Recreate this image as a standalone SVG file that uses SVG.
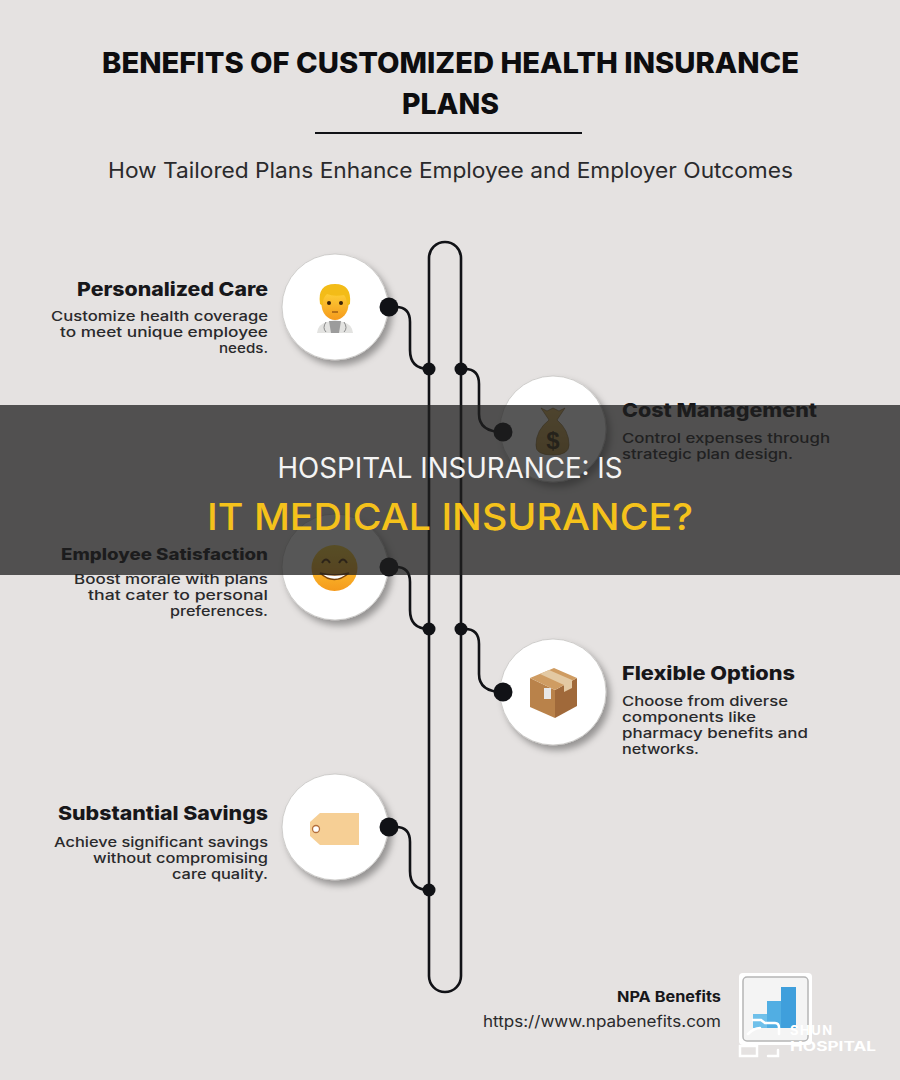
<svg xmlns="http://www.w3.org/2000/svg" width="900" height="1080" viewBox="0 0 900 1080">
<style>
.t{font-family:"Inter","Liberation Sans",sans-serif;font-size:28.5px;font-weight:800;fill:#0d0d0f}
.n{font-family:"Inter","Liberation Sans",sans-serif;font-size:19px;font-weight:800;fill:#17171a}
.b{font-family:"Inter","Liberation Sans",sans-serif;font-size:13.2px;font-weight:500;fill:#2a2a2c}
.e{text-anchor:end}
.c{fill:#fff;filter:url(#sh);stroke:#bdbbb9;stroke-width:.7}
.w{fill:none;stroke:#111216;stroke-width:2.6}
.d{fill:#111216}
</style>
<defs>
<filter id="sh" x="-30%" y="-30%" width="170%" height="170%"><feDropShadow dx="4" dy="5" stdDeviation="3.5" flood-color="#000" flood-opacity=".35"/></filter>
<linearGradient id="sk" x1="0" y1="0" x2="0" y2="1"><stop offset="0" stop-color="#ffd83b"/><stop offset="1" stop-color="#f59a1c"/></linearGradient>
<linearGradient id="bg" x1="0" y1="0" x2="0" y2="1"><stop offset="0" stop-color="#d8b25c"/><stop offset="1" stop-color="#b8913f"/></linearGradient>
</defs>
<rect width="900" height="1080" fill="#e5e2e1"/>
<g id="title">
<text class="t" x="102" y="73" textLength="697" lengthAdjust="spacingAndGlyphs">BENEFITS OF CUSTOMIZED HEALTH INSURANCE</text>
<text class="t" x="402" y="114" textLength="97" lengthAdjust="spacingAndGlyphs">PLANS</text>
<rect x="315" y="132" width="267" height="2" fill="#111216"/>
<text x="108" y="178" textLength="685" lengthAdjust="spacingAndGlyphs" font-family="Inter,'Liberation Sans',sans-serif" font-size="21.5" fill="#2a2a2c">How Tailored Plans Enhance Employee and Employer Outcomes</text>
</g>
<g id="connectors">
<rect class="w" x="429" y="242" width="32" height="750" rx="16"/>
<path class="w" d="M389 307H396Q410 307 410 322V350Q410 369 429 369"/>
<path class="w" d="M461 369H465Q479 369 479 384V414Q479 432 503 432"/>
<path class="w" d="M389 567H396Q410 567 410 582V610Q410 629 429 629"/>
<path class="w" d="M461 629H465Q479 629 479 644V674Q479 692 503 692"/>
<path class="w" d="M389 827H396Q410 827 410 842V871Q410 890 429 890"/>
<circle class="d" cx="429" cy="369" r="6.5"/><circle class="d" cx="461" cy="369" r="6.5"/>
<circle class="d" cx="429" cy="629" r="6.5"/><circle class="d" cx="461" cy="629" r="6.5"/>
<circle class="d" cx="429" cy="890" r="6.5"/>
</g>
<g id="node-personalized-care">
<circle class="c" cx="335" cy="307" r="53"/>
<path d="M317 333q1-9 10-11l8-2 8 2q9 2 10 11z" fill="#e3e3e1"/>
<path d="M329 321h12l-2 12h-8z" fill="#9c9c9c"/>
<path d="M326 322q-4 6 0 10M344 322q4 6 0 10" fill="none" stroke="#8a8a8a" stroke-width="1"/>
<ellipse cx="335" cy="304" rx="13.5" ry="16" fill="url(#sk)"/>
<path d="M320 304q-3-20 15-20q17 0 15 20l-3 2q0-8-3-11q-10 2-17-1q-5 4-4 12z" fill="#f3bc18"/>
<circle cx="329" cy="303" r="2" fill="#3b2208"/><circle cx="341" cy="303" r="2" fill="#3b2208"/>
<path d="M332 312h6" stroke="#8a4c10" stroke-width="1.2"/>
<circle class="d" cx="389" cy="307" r="9.5"/>
<text class="n e" x="268" y="296" textLength="191" lengthAdjust="spacingAndGlyphs">Personalized Care</text>
<text class="b e" x="268" y="321" textLength="217" lengthAdjust="spacingAndGlyphs">Customize health coverage</text>
<text class="b e" x="268" y="337" textLength="208" lengthAdjust="spacingAndGlyphs">to meet unique employee</text>
<text class="b e" x="268" y="353" textLength="49" lengthAdjust="spacingAndGlyphs">needs.</text>
</g>
<g id="node-cost-management">
<circle class="c" cx="553" cy="429" r="53"/>
<path d="M541 408l6 3 6-3 6 3 6-3-8 12q12 10 12 25q0 10-16 10q-18 0-17-10q0-15 13-25z" fill="url(#bg)" stroke="#7a5c20" stroke-width=".6"/>
<text x="553" y="449" font-family="Liberation Sans,sans-serif" font-size="24" font-weight="700" text-anchor="middle" fill="#3a2c10">$</text>
<circle class="d" cx="503" cy="432" r="9.5"/>
<text class="n" x="622" y="417" textLength="195" lengthAdjust="spacingAndGlyphs">Cost Management</text>
<text class="b" x="622" y="443" textLength="208" lengthAdjust="spacingAndGlyphs">Control expenses through</text>
<text class="b" x="622" y="459" textLength="171" lengthAdjust="spacingAndGlyphs">strategic plan design.</text>
</g>
<g id="node-employee-satisfaction">
<circle class="c" cx="335" cy="567" r="53"/>
<circle cx="334.500" cy="568" r="23" fill="url(#sk)"/>
<path d="M322 563q4-7 8 0M339 563q4-7 8 0" fill="none" stroke="#5a3508" stroke-width="2"/>
<path d="M320 573q14 13 29 0q-14 4-29 0z" fill="#fff" stroke="#7a4208" stroke-width="1.5"/>
<circle class="d" cx="389" cy="567" r="9.5"/>
<text class="n e" x="268" y="560" textLength="207" lengthAdjust="spacingAndGlyphs" style="font-size:16px">Employee Satisfaction</text>
<text class="b e" x="268" y="584" textLength="194" lengthAdjust="spacingAndGlyphs">Boost morale with plans</text>
<text class="b e" x="268" y="600" textLength="180" lengthAdjust="spacingAndGlyphs">that cater to personal</text>
<text class="b e" x="268" y="616" textLength="98" lengthAdjust="spacingAndGlyphs">preferences.</text>
</g>
<g id="node-flexible-options">
<circle class="c" cx="553" cy="692" r="53"/>
<path d="M530 678l25 12v28l-25-11z" fill="#b9824a"/>
<path d="M555 690l22-12v28l-22 12z" fill="#a0693a"/>
<path d="M530 678l24-10 23 10-22 12z" fill="#cf9c62"/>
<path d="M540 674l9-4 23 10v8l-8 4v-7z" fill="#e3c9a3"/>
<rect x="544" y="688" width="7" height="11" fill="#e8e8e8"/>
<circle class="d" cx="503" cy="692" r="9.5"/>
<text class="n" x="622" y="680" textLength="173" lengthAdjust="spacingAndGlyphs">Flexible Options</text>
<text class="b" x="622" y="706" textLength="166" lengthAdjust="spacingAndGlyphs">Choose from diverse</text>
<text class="b" x="622" y="722" textLength="134" lengthAdjust="spacingAndGlyphs">components like</text>
<text class="b" x="622" y="738" textLength="186" lengthAdjust="spacingAndGlyphs">pharmacy benefits and</text>
<text class="b" x="622" y="754" textLength="77" lengthAdjust="spacingAndGlyphs">networks.</text>
</g>
<g id="node-substantial-savings">
<circle class="c" cx="335" cy="827" r="53"/>
<path d="M320 813h39v32h-39l-10-9v-14z" fill="#f6cf95"/>
<circle cx="316" cy="829" r="3.5" fill="#fff" stroke="#b5703c" stroke-width="1.3"/>
<circle class="d" cx="389" cy="827" r="9.5"/>
<text class="n e" x="268" y="820" textLength="210" lengthAdjust="spacingAndGlyphs">Substantial Savings</text>
<text class="b e" x="268" y="847" textLength="214" lengthAdjust="spacingAndGlyphs">Achieve significant savings</text>
<text class="b e" x="268" y="863" textLength="175" lengthAdjust="spacingAndGlyphs">without compromising</text>
<text class="b e" x="268" y="879" textLength="96" lengthAdjust="spacingAndGlyphs">care quality.</text>
</g>
<g id="source">
<text class="e" x="721" y="1002" font-family="Inter,'Liberation Sans',sans-serif" font-size="15" font-weight="700" fill="#17171a" textLength="104" lengthAdjust="spacingAndGlyphs">NPA Benefits</text>
<text class="e" x="721" y="1027" font-family="Inter,'Liberation Sans',sans-serif" font-size="15.500" fill="#2a2a2c" textLength="238" lengthAdjust="spacingAndGlyphs">https://www.npabenefits.com</text>
<rect x="739" y="973" width="73" height="72" rx="4" fill="#fff"/>
<rect x="743" y="977" width="65" height="64" rx="4" fill="#f4f4f4" stroke="#b5b5b5" stroke-width="1.5"/>
<rect x="781" y="987" width="15" height="41" fill="#3f9fdc"/>
<rect x="767" y="1001" width="14" height="27" fill="#51aee3"/>
<rect x="753" y="1014" width="14" height="14" fill="#6fc0ea"/>
</g>
<g id="banner">
<rect x="0" y="405" width="900" height="170" fill="#1f1f1f" fill-opacity=".75"/>
<text x="450" y="478" text-anchor="middle" font-family="Inter,'Liberation Sans',sans-serif" font-size="28" fill="#f4f4f4" textLength="345" lengthAdjust="spacingAndGlyphs">HOSPITAL INSURANCE: IS</text>
<text x="450" y="530" text-anchor="middle" font-family="Inter,'Liberation Sans',sans-serif" font-size="37" font-weight="500" fill="#f5c21b" textLength="486" lengthAdjust="spacingAndGlyphs">IT MEDICAL INSURANCE?</text>
</g>
<g id="watermark" fill="none" stroke="#fff" stroke-width="2.500" stroke-linecap="round">
<path d="M753 1020h8l4 3h10q4 0 4 5v6M748 1034q6-6 12-6M740 1046h17v10h-17zM768 1056h10v-6"/>
<text x="790" y="1035" font-family="Inter,'Liberation Sans',sans-serif" font-size="13" font-weight="700" fill="#fff" stroke="none" letter-spacing="1.500">SHUN</text>
<text x="790" y="1051" font-family="Inter,'Liberation Sans',sans-serif" font-size="13" font-weight="700" fill="#fff" stroke="none" textLength="86" lengthAdjust="spacingAndGlyphs">HOSPITAL</text>
</g>
</svg>
